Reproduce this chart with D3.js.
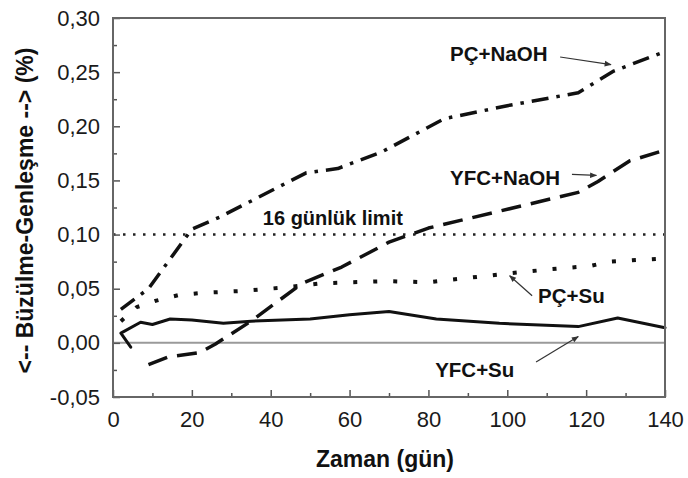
<!DOCTYPE html>
<html>
<head>
<meta charset="utf-8">
<script src="https://cdn.jsdelivr.net/npm/d3@7"></script>
<style>
  html, body { margin: 0; padding: 0; background: #fff; }
  svg { display: block; }
</style>
</head>
<body>
<svg id="chart" width="688" height="478"></svg>
<script>
// Time axis (days) and tick labels
const xTicks = [0, 20, 40, 60, 80, 100, 120, 140];
const xTickLabels = ["0", "20", "40", "60", "80", "100", "120", "140"];
const yTicks = [-0.05, 0, 0.05, 0.10, 0.15, 0.20, 0.25, 0.30];
const yTickLabels = ["-0,05", "0,00", "0,05", "0,10", "0,15", "0,20", "0,25", "0,30"];

// Shrinkage / expansion (%) per mix
const pcNaohDays = [2, 9, 20, 27, 49, 57, 68, 84, 100, 118, 127, 140];
const pcNaohVals = [0.031, 0.050, 0.105, 0.116, 0.157, 0.161, 0.176, 0.207, 0.219, 0.231, 0.251, 0.269];

const yfcNaohDays = [9, 14, 22, 26, 35, 48, 58, 70, 80, 118, 123, 131, 140];
const yfcNaohVals = [-0.020, -0.013, -0.009, -0.001, 0.020, 0.055, 0.070, 0.093, 0.106, 0.139, 0.149, 0.168, 0.178];

const pcSuDays = [2, 6, 11, 16.5, 22, 33, 43, 53, 69, 80, 90, 100, 111, 121, 126, 140];
const pcSuVals = [0.020, 0.033, 0.039, 0.044, 0.046, 0.048, 0.051, 0.055, 0.057, 0.056, 0.060, 0.064, 0.068, 0.071, 0.075, 0.078];

const yfcSuDays = [4.5, 2, 7, 10, 14.5, 20, 28, 35, 50, 60, 70, 82, 98, 118, 128, 140];
const yfcSuVals = [-0.004, 0.009, 0.019, 0.017, 0.022, 0.021, 0.018, 0.020, 0.022, 0.026, 0.029, 0.022, 0.018, 0.015, 0.023, 0.014];

// 16-day expansion limit
const limitValue = 0.10;
const limitLabel = "16 günlük limit";

const svg = d3.select("#chart");
const margin = { top: 18, right: 23, bottom: 81, left: 113 };
const W = 688, H = 478;
const iw = W - margin.left - margin.right;
const ih = H - margin.top - margin.bottom;

const x = d3.scaleLinear().domain([0, 140]).range([margin.left, margin.left + iw]);
const y = d3.scaleLinear().domain([-0.05, 0.30]).range([margin.top + ih, margin.top]);

const FONT = "Arial, 'Liberation Sans', Helvetica, sans-serif";

// Zero reference line
svg.append("line")
  .attr("x1", x(0)).attr("x2", x(140))
  .attr("y1", y(0)).attr("y2", y(0))
  .attr("stroke", "#9a9a9a").attr("stroke-width", 2);

// Limit line
svg.append("line")
  .attr("x1", x(0)).attr("x2", x(140))
  .attr("y1", y(limitValue)).attr("y2", y(limitValue))
  .attr("stroke", "#222").attr("stroke-width", 2.5)
  .attr("stroke-dasharray", "2.5,7.5");

// Axes with inward ticks
const xAxis = d3.axisBottom(x).tickValues(xTicks)
  .tickFormat((d, i) => xTickLabels[i]).tickSizeInner(-7).tickSizeOuter(0).tickPadding(14);
const xMinor = d3.axisBottom(x).tickValues(d3.range(10, 140, 20))
  .tickFormat("").tickSizeInner(-4).tickSizeOuter(0);
const yAxis = d3.axisLeft(y).tickValues(yTicks)
  .tickFormat((d, i) => yTickLabels[i]).tickSizeInner(-7).tickSizeOuter(0).tickPadding(13);
const yMinor = d3.axisLeft(y).tickValues(d3.range(-0.025, 0.30, 0.05))
  .tickFormat("").tickSizeInner(-4).tickSizeOuter(0);

function styleAxis(g) {
  g.select(".domain").remove();
  g.selectAll(".tick line").attr("stroke", "#555").attr("stroke-width", 1.5);
  g.selectAll(".tick text")
    .attr("font-family", FONT).attr("font-size", 22)
    .attr("fill", "#1a1a1a");
}

svg.append("g").attr("transform", `translate(0,${margin.top + ih})`).call(xAxis).call(styleAxis);
svg.append("g").attr("transform", `translate(0,${margin.top + ih})`).call(xMinor).call(styleAxis);
svg.append("g").attr("transform", `translate(${margin.left},0)`).call(yAxis).call(styleAxis);
svg.append("g").attr("transform", `translate(${margin.left},0)`).call(yMinor).call(styleAxis);

// Series
const line = d3.line().x(d => x(d[0])).y(d => y(d[1]));
const series = [
  { days: pcNaohDays, vals: pcNaohVals, dash: "17,8,3.5,8", w: 3.5, cap: "butt" },
  { days: yfcNaohDays, vals: yfcNaohVals, dash: "20,10", w: 3.5, cap: "butt" },
  { days: pcSuDays, vals: pcSuVals, dash: "4,16", w: 4, cap: "butt" },
  { days: yfcSuDays, vals: yfcSuVals, dash: null, w: 3, cap: "round" }
];
series.forEach(s => {
  const pts = s.days.map((d, i) => [d, s.vals[i]]);
  svg.append("path")
    .datum(pts)
    .attr("d", line)
    .attr("fill", "none")
    .attr("stroke", "#111")
    .attr("stroke-width", s.w)
    .attr("stroke-linecap", s.cap)
    .attr("stroke-linejoin", "round")
    .attr("stroke-dasharray", s.dash);
});

// Plot frame
svg.append("rect")
  .attr("x", x(0)).attr("y", y(0.30))
  .attr("width", x(140) - x(0)).attr("height", y(-0.05) - y(0.30))
  .attr("fill", "none").attr("stroke", "#666").attr("stroke-width", 2);

// Arrowhead marker
svg.append("defs").append("marker")
  .attr("id", "head").attr("viewBox", "0 0 10 10")
  .attr("refX", 9).attr("refY", 5)
  .attr("markerWidth", 9).attr("markerHeight", 7)
  .attr("markerUnits", "userSpaceOnUse")
  .attr("orient", "auto")
  .append("path").attr("d", "M0,1 L10,5 L0,9 Z").attr("fill", "#333");

// Series labels with pointers (positions in data units)
const labels = [
  { text: "PÇ+NaOH", at: [85.5, 0.260], from: [113.4, 0.264], to: [126.3, 0.257] },
  { text: "YFC+NaOH", at: [85.5, 0.146], from: [116.4, 0.1555], to: [122.6, 0.1546] },
  { text: "PÇ+Su", at: [107.8, 0.037], from: [106.3, 0.0435], to: [100.6, 0.062] },
  { text: "YFC+Su", at: [81.7, -0.0315], from: [107.3, -0.0176], to: [118.0, 0.0058] }
];
labels.forEach(l => {
  svg.append("text")
    .attr("x", x(l.at[0])).attr("y", y(l.at[1]))
    .attr("font-family", FONT).attr("font-weight", "bold")
    .attr("font-size", 20.5).attr("fill", "#111")
    .text(l.text);
  svg.append("line")
    .attr("x1", x(l.from[0])).attr("y1", y(l.from[1]))
    .attr("x2", x(l.to[0])).attr("y2", y(l.to[1]))
    .attr("stroke", "#333").attr("stroke-width", 1.2)
    .attr("marker-end", "url(#head)");
});

svg.append("text")
  .attr("x", x(38)).attr("y", y(0.109))
  .attr("font-family", FONT).attr("font-weight", "bold")
  .attr("font-size", 20).attr("fill", "#111")
  .text(limitLabel);

// Axis titles
svg.append("text")
  .attr("x", (x(0) + x(140)) / 2 - 4).attr("y", 467)
  .attr("text-anchor", "middle")
  .attr("font-family", FONT).attr("font-weight", "bold")
  .attr("font-size", 23).attr("fill", "#111")
  .text("Zaman (gün)");

svg.append("text")
  .attr("transform", `translate(33,${(y(-0.05) + y(0.30)) / 2 + 3}) rotate(-90)`)
  .attr("text-anchor", "middle")
  .attr("font-family", FONT).attr("font-weight", "bold")
  .attr("font-size", 23).attr("fill", "#111")
  .text("<-- Büzülme-Genleşme --> (%)");
</script>
</body>
</html>
